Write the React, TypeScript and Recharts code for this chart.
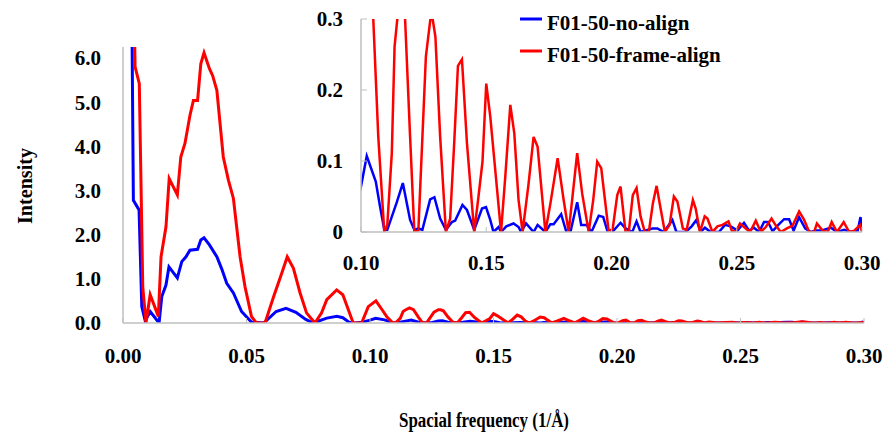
import React from 'react';
import { LineChart, Line, XAxis, YAxis } from 'recharts';

const blueFreq = [
  0.0033, 0.0042, 0.0065, 0.0076, 0.009, 0.011, 0.0146, 0.0157, 0.0174, 0.0186,
  0.022, 0.0238, 0.0255, 0.0271, 0.0302, 0.0315, 0.0328, 0.035, 0.038, 0.04,
  0.042, 0.0447, 0.048, 0.052, 0.057, 0.062, 0.066, 0.07, 0.074, 0.077,
  0.0825, 0.0866, 0.089, 0.0915, 0.094, 0.097, 0.1, 0.1023, 0.1059, 0.1076,
  0.1093, 0.1105, 0.1143, 0.1167, 0.1196, 0.1213, 0.1229, 0.1245, 0.1276, 0.1293,
  0.1316, 0.1339, 0.1363, 0.1376, 0.1405, 0.1423, 0.1452, 0.1483, 0.1499, 0.1516,
  0.1529, 0.1549, 0.1559, 0.158, 0.1609, 0.1629, 0.1639, 0.1659, 0.1689, 0.1705,
  0.1736, 0.1756, 0.1769, 0.1799, 0.182, 0.1836, 0.1863, 0.1879, 0.19, 0.192,
  0.1949, 0.1967, 0.1985, 0.2003, 0.2036, 0.2056, 0.2083, 0.21, 0.2116, 0.2163,
  0.2183, 0.2209, 0.2243, 0.2259, 0.2296, 0.232, 0.2339, 0.2356, 0.2373, 0.2396,
  0.2429, 0.2453, 0.2476, 0.2503, 0.2529, 0.2549, 0.2569, 0.2589, 0.2609, 0.2625,
  0.2643, 0.2663, 0.2689, 0.2709, 0.2727, 0.2749, 0.2773, 0.2796, 0.2816, 0.2836,
  0.2856, 0.2876, 0.29, 0.2929, 0.2956, 0.2983, 0.2994, 0.3,
];
const blueIntensity = [
  9.0, 2.78, 2.56, 0.37, 0.05, 0.26, 0.0, 0.6, 0.86, 1.27,
  1.02, 1.39, 1.5, 1.65, 1.67, 1.88, 1.93, 1.77, 1.5, 1.22,
  0.9, 0.68, 0.26, 0.02, 0.0, 0.26, 0.33, 0.24, 0.08, 0.0,
  0.11, 0.15, 0.12, 0.02, 0.0, 0.02, 0.064, 0.107, 0.071, 0.036,
  0.003, 0.003, 0.042, 0.069, 0.017, 0.003, 0.005, 0.003, 0.046, 0.049,
  0.019, 0.003, 0.014, 0.016, 0.038, 0.031, 0.003, 0.033, 0.035, 0.017,
  0.0, 0.007, 0.0, 0.008, 0.012, 0.007, 0.0, 0.012, 0.0, 0.01,
  0.0, 0.011, 0.011, 0.025, 0.0, 0.0, 0.042, 0.01, 0.01, 0.0,
  0.023, 0.021, 0.0, 0.0, 0.013, 0.005, 0.0, 0.015, 0.0, 0.005,
  0.005, 0.0, 0.017, 0.0, 0.0, 0.008, 0.017, 0.0, 0.006, 0.0,
  0.0, 0.01, 0.008, 0.002, 0.013, 0.002, 0.006, 0.0, 0.014, 0.014,
  0.001, 0.009, 0.018, 0.018, 0.002, 0.021, 0.005, 0.0, 0.002, 0.002,
  0.004, 0.006, 0.0, 0.003, 0.0, 0.002, 0.021, 0.004,
];

const redFreq = [
  0.0042, 0.0049, 0.0066, 0.008, 0.0093, 0.011, 0.0143, 0.0154, 0.0174, 0.0187,
  0.022, 0.0234, 0.0251, 0.0271, 0.0285, 0.0302, 0.0315, 0.0328, 0.035, 0.0363,
  0.038, 0.0406, 0.0427, 0.0447, 0.0474, 0.0494, 0.052, 0.054, 0.0575, 0.061,
  0.0643, 0.0665, 0.069, 0.0717, 0.0743, 0.0777, 0.0804, 0.0825, 0.0865, 0.089,
  0.0932, 0.0966, 0.0993, 0.1024, 0.1049, 0.1069, 0.1093, 0.1105, 0.1123, 0.1134,
  0.1145, 0.116, 0.1176, 0.1196, 0.1213, 0.1229, 0.1259, 0.1277, 0.1286, 0.1297,
  0.1316, 0.1339, 0.1356, 0.1372, 0.1387, 0.1403, 0.1423, 0.1452, 0.1469, 0.1485,
  0.15, 0.1516, 0.1559, 0.1576, 0.1596, 0.1612, 0.1629, 0.1645, 0.1669, 0.1689,
  0.1705, 0.1736, 0.1756, 0.1785, 0.1809, 0.1829, 0.1863, 0.1883, 0.1909, 0.1927,
  0.1943, 0.1959, 0.1989, 0.2005, 0.2023, 0.2036, 0.2056, 0.2069, 0.2085, 0.21,
  0.2116, 0.2133, 0.2149, 0.2165, 0.218, 0.2196, 0.2213, 0.2232, 0.2249, 0.2263,
  0.2285, 0.23, 0.2325, 0.2336, 0.2353, 0.2372, 0.2383, 0.2403, 0.2423, 0.2443,
  0.2467, 0.248, 0.2496, 0.2513, 0.2536, 0.2553, 0.2576, 0.2596, 0.2616, 0.2639,
  0.2656, 0.2676, 0.27, 0.2723, 0.2749, 0.2769, 0.2789, 0.2809, 0.282, 0.2843,
  0.2863, 0.2879, 0.29, 0.2927, 0.2949, 0.2969, 0.2993, 0.3,
];
const redIntensity = [
  8.0, 5.8, 5.42, 0.82, 0.0, 0.64, 0.15, 1.5, 2.18, 3.27,
  2.9, 3.76, 4.07, 4.7, 5.04, 5.04, 5.87, 6.12, 5.76, 5.6,
  5.27, 3.76, 3.23, 2.82, 1.5, 0.82, 0.15, 0.0, 0.0, 0.6,
  1.13, 1.5, 1.24, 0.68, 0.23, 0.0, 0.23, 0.53, 0.75, 0.64,
  0.0, 0.0, 0.37, 0.5, 0.3, 0.134, 0.0, 0.01, 0.111, 0.261,
  0.3, 0.34, 0.3, 0.134, 0.0, 0.002, 0.247, 0.3, 0.3, 0.275,
  0.134, 0.0, 0.019, 0.125, 0.234, 0.243, 0.125, 0.0, 0.05, 0.099,
  0.209, 0.163, 0.0, 0.078, 0.179, 0.139, 0.045, 0.0, 0.068, 0.134,
  0.12, 0.0, 0.04, 0.104, 0.045, 0.0, 0.111, 0.054, 0.0, 0.045,
  0.099, 0.09, 0.0, 0.005, 0.052, 0.064, 0.0, 0.0, 0.052, 0.062,
  0.022, 0.0, 0.0, 0.04, 0.065, 0.033, 0.0, 0.01, 0.05, 0.043,
  0.005, 0.003, 0.045, 0.033, 0.0, 0.022, 0.019, 0.0, 0.008, 0.01,
  0.015, 0.002, 0.0, 0.012, 0.005, 0.0, 0.016, 0.0, 0.007, 0.019,
  0.009, 0.0, 0.005, 0.009, 0.029, 0.017, 0.0, 0.0, 0.012, 0.002,
  0.0, 0.014, 0.0, 0.014, 0.0, 0.002, 0.01, 0.0,
];

const mainXTicks = [0, 0.05, 0.1, 0.15, 0.2, 0.25, 0.3];
const mainYTicks = [0, 1, 2, 3, 4, 5, 6];
const insetXTicks = [0.1, 0.15, 0.2, 0.25, 0.3];
const insetYTicks = [0, 0.1, 0.2, 0.3];
const seriesNames = ['F01-50-no-align', 'F01-50-frame-align'];
const seriesColors = ['#0000ff', '#ff0000'];
const xTitle = 'Spacial frequency (1/Å)';
const yTitle = 'Intensity';

const blueData = blueFreq.map((f, i) => ({ f, v: blueIntensity[i] }));
const redData = redFreq.map((f, i) => ({ f, v: redIntensity[i] }));
const insetBlue = blueData.filter((d) => d.f >= 0.095);
const insetRed = redData.filter((d) => d.f >= 0.095);

const FONT = '"Liberation Serif", "Times New Roman", serif';
const AXIS = '#bfbfbf';
const TICK_FS = 21;

const makeXTick = (margin: number, fmt: (v: number) => string) => (props: any) => {
  const { x, y, payload } = props;
  const axisY = y - margin;
  return (
    <g>
      <line x1={x} x2={x} y1={axisY} y2={axisY - 5} stroke={AXIS} strokeWidth={1} />
      <text x={x} y={y} dy="0.71em" textAnchor="middle" fontFamily={FONT} fontWeight="bold" fontSize={TICK_FS} fill="#000">
        {fmt(payload.value)}
      </text>
    </g>
  );
};

const makeYTick = (margin: number, fmt: (v: number) => string, mark: boolean) => (props: any) => {
  const { x, y, payload } = props;
  const axisX = x + margin;
  return (
    <g>
      {mark && <line x1={axisX} x2={axisX + 6} y1={y} y2={y} stroke={AXIS} strokeWidth={1} />}
      <text x={x} y={y} dy="0.35em" textAnchor="end" fontFamily={FONT} fontWeight="bold" fontSize={TICK_FS} fill="#000">
        {fmt(payload.value)}
      </text>
    </g>
  );
};

const W = 885;
const H = 436;

export default function App() {
  return (
    <div style={{ position: 'absolute', left: 0, top: 0, width: W, height: H, background: '#fff' }}>
      <div style={{ position: 'absolute', left: 0, top: 0 }}>
        <LineChart width={W} height={H} margin={{ top: 47, right: 21, bottom: 73, left: 63 }}>
          <XAxis
            type="number"
            dataKey="f"
            domain={[0, 0.3]}
            ticks={mainXTicks}
            allowDataOverflow
            height={40}
            stroke={AXIS}
            strokeWidth={1.5}
            tickLine={false}
            tickSize={0}
            tickMargin={25}
            tick={makeXTick(25, (v) => v.toFixed(2))}
          />
          <YAxis
            type="number"
            domain={[0, 6.25]}
            ticks={mainYTicks}
            allowDataOverflow
            width={60}
            stroke={AXIS}
            strokeWidth={1.5}
            tickLine={false}
            tickSize={0}
            tickMargin={22}
            tick={makeYTick(22, (v) => v.toFixed(1), false)}
          />
          <Line data={blueData} dataKey="v" type="linear" stroke={seriesColors[0]} strokeWidth={3} dot={false} isAnimationActive={false} />
          <Line data={redData} dataKey="v" type="linear" stroke={seriesColors[1]} strokeWidth={3} dot={false} isAnimationActive={false} />
        </LineChart>
      </div>
      <div style={{ position: 'absolute', left: 0, top: 0 }}>
        <LineChart width={W} height={H} margin={{ top: 19, right: 23, bottom: 164, left: 301 }}>
          <XAxis
            type="number"
            dataKey="f"
            domain={[0.1, 0.3]}
            ticks={insetXTicks}
            allowDataOverflow
            height={40}
            stroke={AXIS}
            strokeWidth={1.5}
            tickLine={false}
            tickSize={0}
            tickMargin={23}
            tick={makeXTick(23, (v) => v.toFixed(2))}
          />
          <YAxis
            type="number"
            domain={[0, 0.3]}
            ticks={insetYTicks}
            allowDataOverflow
            width={60}
            stroke={AXIS}
            strokeWidth={1.5}
            tickLine={false}
            tickSize={0}
            tickMargin={18}
            tick={makeYTick(18, (v) => (v === 0 ? '0' : v.toFixed(1)), true)}
          />
          <Line data={insetBlue} dataKey="v" type="linear" stroke={seriesColors[0]} strokeWidth={2.5} dot={false} isAnimationActive={false} />
          <Line data={insetRed} dataKey="v" type="linear" stroke={seriesColors[1]} strokeWidth={2.5} dot={false} isAnimationActive={false} />
        </LineChart>
      </div>
      <svg width={W} height={H} style={{ position: 'absolute', left: 0, top: 0, pointerEvents: 'none' }}>
        {seriesNames.map((name, i) => (
          <g key={name}>
            <line x1={520} x2={542} y1={19 + i * 32} y2={19 + i * 32} stroke={seriesColors[i]} strokeWidth={3} />
            <text x={547} y={30 + i * 32} fontFamily={FONT} fontWeight="bold" fontSize={21} fill="#000">
              {name}
            </text>
          </g>
        ))}
        <text
          transform="translate(32,186) rotate(-90)"
          textAnchor="middle"
          fontFamily={FONT}
          fontWeight="bold"
          fontSize={22}
          textLength={76}
          lengthAdjust="spacingAndGlyphs"
          fill="#000"
        >
          {yTitle}
        </text>
        <text
          x={484}
          y={427}
          textAnchor="middle"
          fontFamily={FONT}
          fontWeight="bold"
          fontSize={20}
          textLength={170}
          lengthAdjust="spacingAndGlyphs"
          fill="#000"
        >
          {xTitle}
        </text>
      </svg>
    </div>
  );
}
